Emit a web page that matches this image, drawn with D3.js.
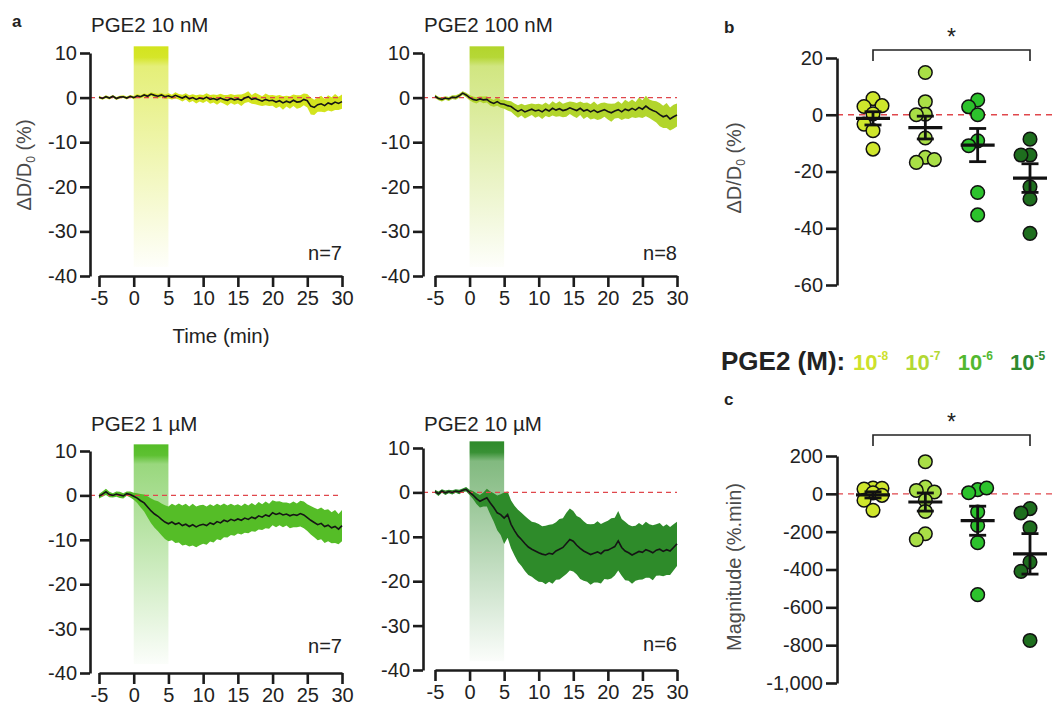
<!DOCTYPE html>
<html>
<head>
<meta charset="utf-8">
<script src="https://cdn.jsdelivr.net/npm/d3@7"></script>
<style>
  body { margin: 0; background: #fff; }
  svg text { font-family: "Liberation Sans", Arial, sans-serif; fill: #222; }
</style>
</head>
<body>
<div id="figure"></div>
<script>
// ---- data ----
// time traces, sampled every 0.5 min from -5 to 30 min
var times = d3.range(-5, 30.01, 0.5);

var mean10nM = [0.1, -0.2, 0.2, -0.1, 0.3, -0.2, 0.1, 0.2, -0.1, 0.3,
  0.0, 0.4, 0.2, 0.6, 0.3, 0.8, 0.5, 0.3, 0.6, 0.2,
  0.4, 0.1, 0.5, 0.2, -0.1, 0.3, -0.3, 0.0, -0.4, -0.1,
  -0.3, 0.1, -0.4, -0.2, -0.5, -0.1, -0.4, -0.6, -0.2, -0.5,
  -0.3, -0.6, -0.1, 0.2, -0.4, -0.2, -0.5, -0.8, -0.4, -0.7,
  -0.6, -1.0, -0.7, -1.2, -0.8, -1.1, -0.6, -1.0, -0.9, -0.4,
  -0.7, -1.9, -2.2, -1.6, -1.4, -1.8, -1.2, -1.5, -1.0, -1.3,
  -0.9];
var sem10nM = [0.3, 0.3, 0.35, 0.3, 0.3, 0.35, 0.3, 0.3, 0.35, 0.3,
  0.35, 0.4, 0.35, 0.4, 0.45, 0.4, 0.45, 0.5, 0.45, 0.5,
  0.6, 0.55, 0.7, 0.6, 0.75, 0.7, 0.8, 0.75, 0.9, 0.8,
  0.9, 0.85, 1.0, 0.9, 1.1, 0.95, 1.0, 1.2, 1.0, 1.1,
  1.0, 1.3, 1.1, 1.2, 1.0, 1.3, 1.2, 1.1, 1.3, 1.2,
  1.2, 1.4, 1.3, 1.5, 1.2, 1.4, 1.3, 1.5, 1.4, 1.3,
  1.5, 1.9, 1.7, 1.6, 1.8, 1.5, 1.7, 1.6, 1.8, 1.5,
  1.6];

var mean100nM = [0.3, -0.2, -0.4, -0.1, -0.3, 0.1, 0.0, 0.4, 1.0, 0.6,
  0.0, -0.4, -0.6, -0.3, -0.5, -0.4, -1.0, -1.3, -0.9, -1.4,
  -1.5, -1.8, -2.0, -2.6, -3.1, -2.7, -3.2, -2.9, -2.6, -3.0,
  -2.8, -3.2, -2.6, -3.0, -2.4, -2.8, -2.5, -2.9, -2.7, -2.3,
  -2.6, -2.9, -2.4, -3.0, -2.7, -3.2, -2.8, -3.3, -3.0, -2.7,
  -3.1, -3.4, -3.0, -2.7, -3.2, -2.6, -2.9, -2.4, -2.8, -2.2,
  -2.6, -1.9, -2.5, -2.9, -3.2, -3.8, -4.3, -4.0, -4.8, -4.3,
  -3.9];
var sem100nM = [0.4, 0.4, 0.5, 0.4, 0.45, 0.4, 0.5, 0.45, 0.4, 0.5,
  0.6, 0.65, 0.7, 0.6, 0.75, 0.7, 0.8, 0.75, 0.9, 0.85,
  1.0, 1.1, 1.2, 1.3, 1.4, 1.3, 1.5, 1.4, 1.3, 1.5,
  1.4, 1.6, 1.5, 1.4, 1.6, 1.5, 1.7, 1.5, 1.6, 1.4,
  1.6, 1.7, 1.5, 1.8, 1.6, 1.7, 1.9, 1.7, 1.8, 1.6,
  1.8, 2.0, 1.7, 1.9, 1.8, 2.1, 1.9, 2.0, 1.8, 2.2,
  2.0, 2.3, 2.1, 2.2, 2.4, 2.6, 2.5, 2.8, 2.6, 2.7,
  2.6];

var mean1uM = [-0.2, 0.3, 0.8, 0.2, 0.0, 0.3, 0.1, -0.1, 0.4, 0.2,
  -0.2, -0.6, -1.2, -1.7, -2.6, -3.5, -4.2, -4.7, -5.4, -6.0,
  -6.4, -6.0, -6.5, -6.2, -6.8, -6.5, -7.0, -6.6, -7.1, -6.7,
  -6.5, -6.8, -6.2, -6.5, -5.9, -6.2, -5.6, -5.9, -5.4, -5.7,
  -5.3, -5.6, -5.1, -5.4, -4.9, -5.2, -4.6, -4.9, -4.4, -4.7,
  -3.9, -4.3, -4.0, -4.4, -4.2, -4.6, -4.3, -4.5, -4.1, -4.4,
  -5.0, -5.6, -6.1, -6.6, -6.3, -7.0, -6.7, -7.3, -7.0, -7.6,
  -6.8];
var sem1uM = [0.5, 0.6, 0.7, 0.6, 0.5, 0.6, 0.7, 0.6, 0.5, 0.7,
  0.8, 1.1, 1.5, 1.9, 2.4, 2.8, 3.1, 3.4, 3.6, 3.8,
  3.9, 4.1, 4.2, 4.4, 4.5, 4.6, 4.5, 4.7, 4.6, 4.5,
  4.4, 4.3, 4.2, 4.1, 4.0, 3.9, 3.8, 3.6, 3.5, 3.4,
  3.3, 3.2, 3.3, 3.1, 3.2, 3.0, 3.1, 2.9, 3.0, 2.8,
  2.8, 2.9, 2.7, 2.8, 2.6, 2.8, 2.9, 2.7, 2.9, 3.0,
  3.0, 3.2, 3.3, 3.5, 3.6, 3.7, 3.6, 3.5, 3.7, 3.4,
  3.5];

var mean10uM = [0.2, -0.3, 0.3, -0.1, 0.2, 0.0, 0.3, 0.1, 0.5, 0.7,
  0.0, -0.6, -1.4, -2.0, -1.6, -1.2, -2.4, -3.4, -4.6, -5.0,
  -5.8, -5.0, -7.2, -8.6, -9.8, -10.6, -11.5, -12.3, -12.8, -13.2,
  -13.6, -13.9, -14.1, -13.7, -13.9, -13.2, -12.8, -12.4, -11.5, -10.6,
  -11.0, -11.9, -12.6, -13.2, -13.6, -14.0, -13.7, -13.4, -13.8, -13.1,
  -13.0, -12.6, -12.2, -10.9, -12.4, -13.2, -13.6, -14.1, -13.7, -13.3,
  -13.5, -12.9, -13.2, -13.6, -13.0, -12.8, -13.3, -12.9, -13.2, -12.4,
  -11.6];
var sem10uM = [0.4, 0.5, 0.4, 0.5, 0.4, 0.5, 0.4, 0.5, 0.4, 0.5,
  0.6, 0.9, 1.2, 1.4, 1.6, 2.0, 2.6, 3.2, 3.9, 4.6,
  5.8, 5.2, 5.4, 5.6, 5.9, 6.0, 6.2, 6.3, 6.2, 6.4,
  6.5, 6.3, 6.6, 6.4, 6.7, 6.5, 6.8, 6.6, 6.9, 7.0,
  6.8, 6.6, 6.9, 6.7, 6.5, 6.8, 6.6, 6.9, 6.7, 6.4,
  6.6, 6.8, 6.5, 6.7, 6.4, 6.6, 6.3, 6.5, 6.2, 6.4,
  6.1, 6.3, 6.0, 6.2, 5.8, 5.9, 5.6, 5.7, 5.4, 5.2,
  5.0];

var traceTitles = ["PGE2 10 nM", "PGE2 100 nM", "PGE2 1 µM", "PGE2 10 µM"];
var traceN = ["n=7", "n=8", "n=7", "n=6"];
var traceYTicks = [10, 0, -10, -20, -30, -40];
var timeTicks = [-5, 0, 5, 10, 15, 20, 25, 30];

// scatter panels b and c
var concentrations = ["-8", "-7", "-6", "-5"];
var deltaValues = [
  [5.7, 2.9, 3.2, 0.3, -3.3, -5.6, -12.1],
  [14.9, 4.6, 0.2, 0.0, -8.2, -15.0, -16.8, -15.8],
  [5.2, 2.8, 0.0, -9.2, -10.9, -27.4, -35.3],
  [-8.6, -14.2, -14.2, -25.4, -29.7, -41.8]
];
var magnitudeValues = [
  [31, 25, 29, 5, -8, -34, -87],
  [170, 36, 18, 10, -34, -93, -211, -242],
  [22, 6, 31, -96, -167, -258, -533],
  [-78, -101, -179, -361, -410, -775]
];
var deltaTicks = [20, 0, -20, -40, -60];
var magnitudeTicks = [200, 0, -200, -400, -600, -800, -1000];

// colours
var traceColors = ["#d3e41e", "#b2d52c", "#55bd27", "#2e8b2a"];
var dotColors = ["#cfe62c", "#a9df46", "#2cc22c", "#1e6e1e"];
var legendColors = ["#cde12a", "#b3d833", "#52b830", "#2e8a30"];

var W = 1057, H = 713;
var svg = d3.select("#figure").append("svg").attr("width", W).attr("height", H);
var defs = svg.append("defs");

var ink = "#1c1c1c";
var axisW = 2.6;
var fs = "20px";

function styleAxis(g) {
  g.select(".domain").attr("stroke", ink).attr("stroke-width", axisW);
  g.selectAll(".tick line").attr("stroke", ink).attr("stroke-width", axisW);
  g.selectAll(".tick text").attr("fill", "#222").style("font-size", fs);
}

// ---- panel a: four time traces ----
var traceMeans = [mean10nM, mean100nM, mean1uM, mean10uM];
var traceSems = [sem10nM, sem100nM, sem1uM, sem10uM];
var traceBoxes = [
  { ax: 90, x0: 99, x1: 342, yTop: 53, yBot: 276, titleY: 32, nY: 260 },
  { ax: 423, x0: 435, x1: 677, yTop: 53, yBot: 276, titleY: 32, nY: 260 },
  { ax: 90, x0: 99, x1: 342, yTop: 451, yBot: 673, titleY: 431, nY: 653 },
  { ax: 423, x0: 435, x1: 677, yTop: 448, yBot: 670, titleY: 431, nY: 651 }
];

traceBoxes.forEach(function (b, i) {
  var x = d3.scaleLinear().domain([-5, 30]).range([b.x0, b.x1]);
  var y = d3.scaleLinear().domain([10, -40]).range([b.yTop, b.yBot]);
  var g = svg.append("g");

  // stimulus bar with fading gradient
  var gid = "stim" + i;
  var grad = defs.append("linearGradient").attr("id", gid)
    .attr("x1", 0).attr("y1", 0).attr("x2", 0).attr("y2", 1);
  grad.append("stop").attr("offset", 0).attr("stop-color", traceColors[i]).attr("stop-opacity", 1);
  grad.append("stop").attr("offset", 0.05).attr("stop-color", traceColors[i]).attr("stop-opacity", 0.95);
  grad.append("stop").attr("offset", 0.09).attr("stop-color", traceColors[i]).attr("stop-opacity", 0.6);
  grad.append("stop").attr("offset", 1).attr("stop-color", traceColors[i]).attr("stop-opacity", 0.02);
  g.append("rect")
    .attr("x", x(0)).attr("width", x(5) - x(0))
    .attr("y", y(11.5)).attr("height", y(-38) - y(11.5))
    .attr("fill", "url(#" + gid + ")");

  var rows = times.map(function (t, k) {
    return { t: t, m: traceMeans[i][k], s: traceSems[i][k] };
  });

  // SEM band
  g.append("path").datum(rows)
    .attr("fill", traceColors[i])
    .attr("d", d3.area().x(function (d) { return x(d.t); })
      .y0(function (d) { return y(d.m - d.s); })
      .y1(function (d) { return y(d.m + d.s); }));

  // zero line
  g.append("line")
    .attr("x1", b.ax).attr("x2", b.x1).attr("y1", y(0)).attr("y2", y(0))
    .attr("stroke", "#e0474c").attr("stroke-width", 1.3).attr("stroke-dasharray", "5,4");

  // mean trace
  g.append("path").datum(rows)
    .attr("fill", "none").attr("stroke", "#151515").attr("stroke-width", 1.6)
    .attr("d", d3.line().x(function (d) { return x(d.t); }).y(function (d) { return y(d.m); }));

  // axes
  g.append("g").attr("transform", "translate(" + b.ax + ",0)")
    .call(d3.axisLeft(y).tickValues(traceYTicks).tickSize(10).tickSizeOuter(0).tickPadding(3)
      .tickFormat(function (d) { return String(d); }))
    .call(styleAxis);
  g.append("g").attr("transform", "translate(0," + b.yBot + ")")
    .call(d3.axisBottom(x).tickValues(timeTicks).tickSize(11).tickSizeOuter(0).tickPadding(4)
      .tickFormat(function (d) { return String(d); }))
    .call(styleAxis);

  g.append("text").attr("x", b.ax + 1).attr("y", b.titleY)
    .style("font-size", "20.5px").text(traceTitles[i]);
  g.append("text").attr("x", b.x1).attr("y", b.nY).attr("text-anchor", "end")
    .style("font-size", fs).text(traceN[i]);
});

// axis titles of panel a (first trace only)
svg.append("text").attr("x", 221).attr("y", 343).attr("text-anchor", "middle")
  .style("font-size", "20.5px").text("Time (min)");

function deltaLabel(sel, cx, cy) {
  var t = sel.append("text")
    .attr("transform", "translate(" + cx + "," + cy + ") rotate(-90)")
    .attr("text-anchor", "middle").style("font-size", fs).style("fill", "#4a4a4a");
  t.append("tspan").text("ΔD/D");
  t.append("tspan").attr("dy", 4).style("font-size", "12px").text("0");
  t.append("tspan").attr("dy", -4).text(" (%)");
}
deltaLabel(svg, 31, 165);

// ---- panels b and c: dot plots ----
var xCat = d3.scalePoint().domain(concentrations).range([873, 1030]);

function dodge(values, y, r) {
  // small deterministic beeswarm in three columns: take the first free slot,
  // else the slot that overlaps least
  var placed = [];
  var steps = [0, -9, 9];
  return values.map(function (v) {
    var py = y(v), best = 0, bestD = -1;
    for (var k = 0; k < steps.length; k++) {
      var dmin = d3.min(placed, function (p) { return Math.hypot(p.off - steps[k], p.y - py); });
      if (dmin === undefined) dmin = Infinity;
      if (dmin >= 2 * r - 3) { best = steps[k]; bestD = dmin; break; }
      if (dmin > bestD) { bestD = dmin; best = steps[k]; }
    }
    var pt = { v: v, y: py, off: best };
    placed.push(pt);
    return pt;
  });
}

function dotPanel(values, domain, yRange, ticks, fmt, bracketY, label, labelY) {
  var y = d3.scaleLinear().domain(domain).range(yRange);
  var g = svg.append("g");
  var r = 6.8;

  g.append("line")
    .attr("x1", 837).attr("x2", W).attr("y1", y(0)).attr("y2", y(0))
    .attr("stroke", "#e0474c").attr("stroke-width", 1.3).attr("stroke-dasharray", "6,5");

  values.forEach(function (vals, i) {
    var cx = xCat(concentrations[i]);
    var pts = dodge(vals, y, r);
    g.append("g").selectAll("circle").data(pts).enter().append("circle")
      .attr("cx", function (d) { return cx + d.off; })
      .attr("cy", function (d) { return d.y; })
      .attr("r", r)
      .attr("fill", dotColors[i]).attr("stroke", "#111").attr("stroke-width", 1.5);

    var m = d3.mean(vals);
    var se = d3.deviation(vals) / Math.sqrt(vals.length);
    var eg = g.append("g").attr("stroke", "#111");
    eg.append("line").attr("x1", cx).attr("x2", cx).attr("y1", y(m + se)).attr("y2", y(m - se)).attr("stroke-width", 2.8);
    eg.append("line").attr("x1", cx - 8.5).attr("x2", cx + 8.5).attr("y1", y(m + se)).attr("y2", y(m + se)).attr("stroke-width", 2.8);
    eg.append("line").attr("x1", cx - 8.5).attr("x2", cx + 8.5).attr("y1", y(m - se)).attr("y2", y(m - se)).attr("stroke-width", 2.8);
    eg.append("line").attr("x1", cx - 17).attr("x2", cx + 17).attr("y1", y(m)).attr("y2", y(m)).attr("stroke-width", 3.2);
  });

  g.append("g").attr("transform", "translate(837,0)")
    .call(d3.axisLeft(y).tickValues(ticks).tickSize(11).tickSizeOuter(0).tickPadding(3).tickFormat(fmt))
    .call(styleAxis);

  // significance bracket
  var x0 = xCat(concentrations[0]), x3 = xCat(concentrations[3]);
  g.append("path")
    .attr("d", "M" + x0 + "," + (bracketY + 11) + "V" + bracketY + "H" + x3 + "V" + (bracketY + 11))
    .attr("fill", "none").attr("stroke", "#222").attr("stroke-width", 1.6);
  g.append("text").attr("x", (x0 + x3) / 2).attr("y", bracketY - 5).attr("text-anchor", "middle")
    .style("font-size", "23px").text("*");

  if (label) {
    g.append("text").attr("transform", "translate(741," + labelY + ") rotate(-90)")
      .attr("text-anchor", "middle").style("font-size", fs).style("fill", "#4a4a4a").text(label);
  }
  return g;
}

var plainFmt = function (d) { return String(d); };
var commaFmt = function (d) { return d3.format(",")(d).replace("\u2212", "-"); };

var gb = dotPanel(deltaValues, [-60, 20], [285, 58], deltaTicks, plainFmt, 50, null, 0);
deltaLabel(gb, 741, 168);
dotPanel(magnitudeValues, [-1000, 200], [683, 456], magnitudeTicks, commaFmt, 435, "Magnitude (%.min)", 567);

// legend of concentrations
svg.append("text").attr("x", 721).attr("y", 370)
  .style("font-size", "26px").style("font-weight", "bold").text("PGE2 (M):");
concentrations.forEach(function (c, i) {
  var t = svg.append("text").attr("x", xCat(c) - 20).attr("y", 370)
    .style("font-weight", "bold").style("fill", legendColors[i]);
  t.append("tspan").style("font-size", "22px").style("fill", legendColors[i]).text("10");
  t.append("tspan").attr("dy", -10).style("font-size", "12px").style("fill", legendColors[i]).text(c);
});

// panel letters
svg.append("text").attr("x", 12).attr("y", 27).style("font-size", "17px").style("font-weight", "bold").text("a");
svg.append("text").attr("x", 724).attr("y", 33).style("font-size", "17px").style("font-weight", "bold").text("b");
svg.append("text").attr("x", 724).attr("y", 405).style("font-size", "17px").style("font-weight", "bold").text("c");
</script>
</body>
</html>
